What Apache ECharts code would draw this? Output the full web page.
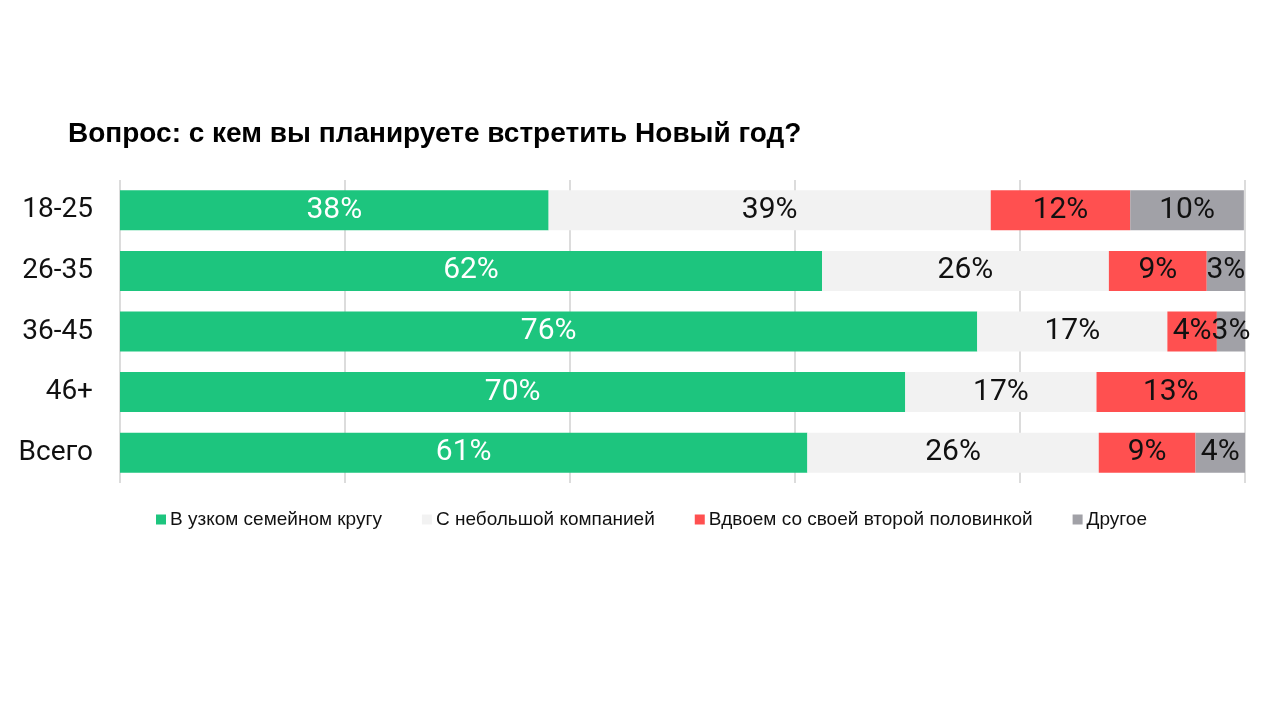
<!DOCTYPE html>
<html>
<head>
<meta charset="utf-8">
<script src="https://cdn.jsdelivr.net/npm/echarts@6/dist/echarts.min.js"></script>
<style>html,body{margin:0;padding:0;background:#fff}#c{width:1280px;height:720px}</style>
</head>
<body>
<div id="c"></div>
<script>
const categories = ['18-25', '26-35', '36-45', '46+', 'Всего'];
const seriesNames = ['В узком семейном кругу', 'С небольшой компанией', 'Вдвоем со своей второй половинкой', 'Другое'];
const family = [38.1, 62.4, 76.2, 69.8, 61.1];
const company = [39.3, 25.5, 16.9, 17.0, 25.9];
const couple = [12.4, 8.7, 4.4, 13.2, 8.6];
const other = [10.1, 3.4, 2.5, 0, 4.4];
const xTicks = [0, 20, 40, 60, 80, 100];

const colors = ['#1dc57e', '#f2f2f2', '#ff5050', '#a1a1a7'];
const values = [family, company, couple, other];
const labelColors = ['#ffffff', '#111111', '#111111', '#111111'];

const chart = echarts.init(document.getElementById('c'));
chart.setOption({
  animation: false,
  backgroundColor: '#ffffff',
  title: {
    text: 'Вопрос: с кем вы планируете встретить Новый год?',
    left: 63, top: 115,
    textStyle: { fontFamily: 'Liberation Sans', fontWeight: 'bold', fontSize: 28, color: '#000' }
  },
  legend: {
    left: 151, top: 505,
    itemWidth: 10, itemHeight: 10, itemGap: 40,
    icon: 'rect',
    textStyle: { fontFamily: 'Liberation Sans', fontSize: 19, color: '#111', padding: [0, 0, 0, -1] },
    data: seriesNames
  },
  grid: { left: 120, right: 35, top: 180, bottom: 237, containLabel: false },
  xAxis: {
    type: 'value', min: xTicks[0], max: xTicks[xTicks.length - 1], interval: 20,
    axisLabel: { show: false }, axisTick: { show: false }, axisLine: { show: false },
    splitLine: { show: true, lineStyle: { color: '#dcdcdc', width: 2 } }
  },
  yAxis: {
    type: 'category', inverse: true, data: categories,
    axisLine: { show: false }, axisTick: { show: false },
    axisLabel: { fontFamily: 'Roboto', fontSize: 28, color: '#111', margin: 27 }
  },
  series: values.map((v, i) => ({
    name: seriesNames[i],
    type: 'bar', stack: 'total', barWidth: 40,
    data: v,
    itemStyle: { color: colors[i] },
    label: {
      show: true, position: 'inside',
      fontFamily: 'Roboto', fontSize: 30, color: labelColors[i],
      formatter: p => p.value > 0 ? Math.round(p.value) + '%' : ''
    }
  }))
});
</script>
</body>
</html>
